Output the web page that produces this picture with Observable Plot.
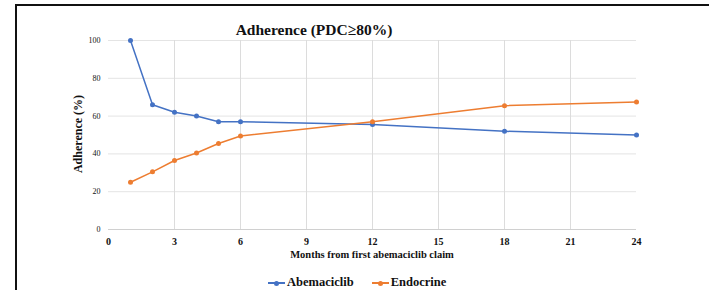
<!DOCTYPE html>
<html>
<head>
<meta charset="utf-8">
<script src="https://cdn.jsdelivr.net/npm/d3@7"></script>
<script src="https://cdn.jsdelivr.net/npm/@observablehq/plot@0.6"></script>
<style>
  html, body { margin: 0; padding: 0; background: #fff; overflow: hidden; }
  #wrap { position: relative; width: 709px; height: 290px; overflow: hidden; font-family: "Liberation Serif", "Times New Roman", serif; }
  #frame { position: absolute; left: 15px; top: 4px; width: 900px; height: 400px; border-left: 2px solid #111; border-top: 2px solid #111; box-sizing: border-box; }
  #chart { position: absolute; left: 0; top: 0; }
  .txt { position: absolute; white-space: nowrap; font-weight: bold; color: #111; line-height: 1; }
  #title { left: 314px; top: 22px; transform: translateX(-50%); font-size: 15.5px; }
  #xlabel { left: 372px; top: 250px; transform: translateX(-50%); font-size: 10.5px; }
  #ylabel { left: 78px; top: 134px; transform: translate(-50%, -50%) rotate(-90deg); font-size: 12px; }
  #legend { position: absolute; top: 275px; left: 268px; display: flex; align-items: center; font-weight: bold; font-size: 12.5px; color: #111; }
  .item { display: flex; align-items: center; margin-right: 18px; }
  .sw { position: relative; width: 17px; height: 10px; margin-right: 2px; }
  .sw .ln { position: absolute; left: 0; right: 0; top: 4px; height: 2px; }
  .sw .dt { position: absolute; left: 6px; top: 3px; width: 5px; height: 5px; border-radius: 50%; }
</style>
</head>
<body>
<div id="wrap">
  <div id="frame"></div>
  <div id="chart"></div>
  <div id="title" class="txt">Adherence (PDC≥80%)</div>
  <div id="xlabel" class="txt">Months from first abemaciclib claim</div>
  <div id="ylabel" class="txt">Adherence (%)</div>
  <div id="legend"></div>
</div>
<script>
const months = [1, 2, 3, 4, 5, 6, 12, 18, 24];
const abemaciclib = [100, 66, 62, 60, 57, 57, 55.5, 52, 50];
const endocrine = [25, 30.5, 36.5, 40.5, 45.5, 49.5, 57, 65.5, 67.5];
const seriesNames = ["Abemaciclib", "Endocrine"];
const seriesColors = ["#4472C4", "#ED7D31"];
const xTicks = [0, 3, 6, 9, 12, 15, 18, 21, 24];
const yTicks = [0, 20, 40, 60, 80, 100];

const data = [];
months.forEach((m, i) => {
  data.push({month: m, value: abemaciclib[i], series: seriesNames[0]});
  data.push({month: m, value: endocrine[i], series: seriesNames[1]});
});

const chart = Plot.plot({
  width: 709,
  height: 290,
  marginLeft: 108,
  marginRight: 73,
  marginTop: 40,
  marginBottom: 61,
  style: {fontFamily: "'Liberation Serif', 'Times New Roman', serif", background: "transparent", color: "#111"},
  x: {domain: [0, 24]},
  y: {domain: [0, 100]},
  color: {domain: seriesNames, range: seriesColors},
  marks: [
    Plot.ruleY(yTicks.filter(d => d > 0), {stroke: "#e4e4e4", strokeWidth: 1}),
    Plot.ruleX(xTicks.filter(d => d > 0 && d < 24), {stroke: "#dcdcdc", strokeWidth: 1}),
    Plot.ruleY([0], {stroke: "#d0d0d0", strokeWidth: 1}),
    Plot.axisX({ticks: xTicks, tickSize: 0, tickPadding: 8, fontSize: 10, fontWeight: "bold", label: null}),
    Plot.axisY({ticks: yTicks, tickSize: 0, tickPadding: 8, fontSize: 8, label: null}),
    Plot.line(data, {x: "month", y: "value", stroke: "series", strokeWidth: 1.5}),
    Plot.dot(data, {x: "month", y: "value", fill: "series", r: 2.5})
  ]
});
document.getElementById("chart").appendChild(chart);

const legend = document.getElementById("legend");
seriesNames.forEach((name, i) => {
  const item = document.createElement("div");
  item.className = "item";
  item.innerHTML = `<div class="sw"><div class="ln" style="background:${seriesColors[i]}"></div><div class="dt" style="background:${seriesColors[i]}"></div></div><span>${name}</span>`;
  legend.appendChild(item);
});
</script>
</body>
</html>
